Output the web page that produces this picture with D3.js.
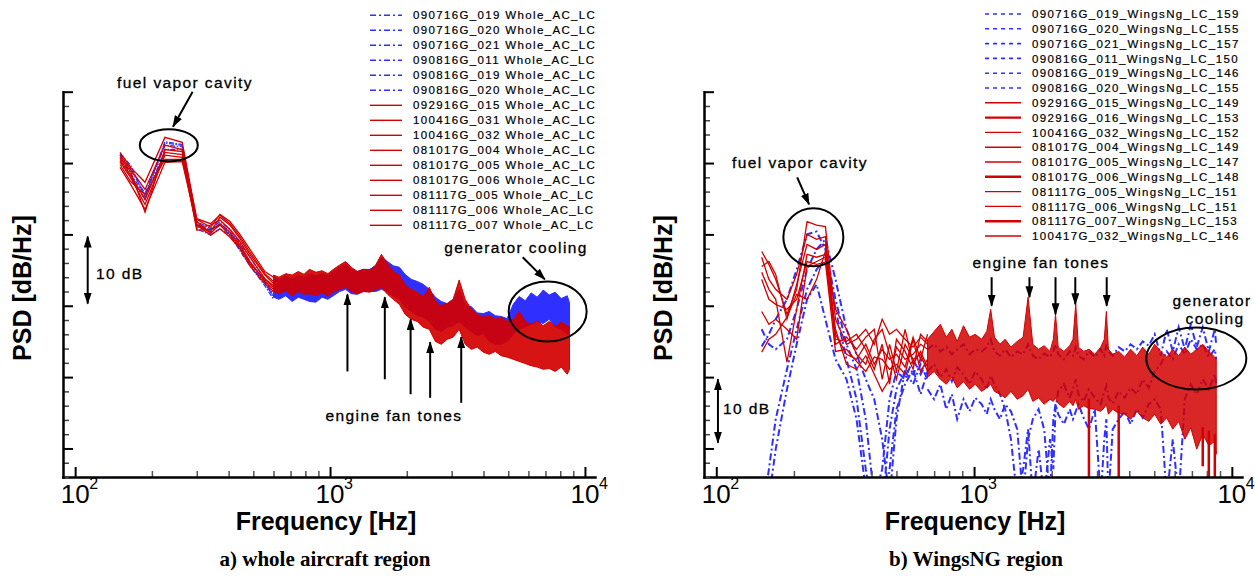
<!DOCTYPE html>
<html>
<head>
<meta charset="utf-8">
<script src="https://cdn.jsdelivr.net/npm/d3@7/dist/d3.min.js"></script>
<style>
  body { margin: 0; background: #fff; }
  svg { display: block; font-family: "Liberation Sans", Arial, sans-serif; }
  .caption { font-family: "Liberation Serif", "Times New Roman", serif; font-weight: bold; font-size: 21px; }
  .axtitle { font-weight: bold; font-size: 25px; }
  .note { font-size: 15.5px; letter-spacing: 1.4px; stroke: #000; stroke-width: 0.3px; }
  .leg { font-size: 11.5px; letter-spacing: 1.35px; stroke: #000; stroke-width: 0.2px; }
</style>
</head>
<body>
<div id="app"></div>
<script>
// ---- a) whole aircraft region : frequencies in Hz, levels in dB ----
var fLowA = [150,165,188,225,263,300,340,370,405,445,485,555,600];
var redLowA = [
  [41.5,39.4,37.3,43.6,42.9,32.1,31.0,32.8,31.8,29.9,27.9,24.8,24.0],
  [40.8,38.8,33.1,41.9,41.6,31.4,30.4,32.4,31.3,29.3,27.2,24.3,23.1],
  [40.2,38.0,34.2,41.1,40.8,31.0,31.3,32.0,30.7,28.9,26.8,23.8,22.8],
  [39.8,37.4,35.6,40.5,40.5,31.8,30.1,31.5,30.3,28.5,26.2,23.4,22.3],
  [40.5,38.3,34.9,41.5,41.2,30.6,30.7,31.3,29.9,28.2,25.9,23.7,22.6],
  [39.4,37.0,33.5,40.1,40.2,31.3,29.9,30.8,29.6,27.9,25.6,23.1,22.0],
  [41.1,39.1,36.3,42.5,41.9,32.2,31.5,32.7,31.5,29.6,27.5,24.5,23.4]
];
var blueLowA = [
  [41.3,39.7,35.2,43.0,42.6,31.8,30.8,31.8,30.7,28.7,26.8,23.7,21.6],
  [40.8,38.5,35.5,42.5,42.3,31.3,30.3,31.3,30.1,28.2,26.2,23.3,21.2],
  [40.2,38.0,34.9,41.9,41.9,30.8,29.9,30.8,29.9,27.6,25.6,22.8,20.9],
  [41.1,39.1,35.7,42.8,42.5,31.5,30.6,31.5,30.4,27.9,25.9,23.1,21.4]
];
var fHighA = [600,630,670,710,750,790,830,880,930,980,1030,1090,1150,1210,1280,1350,1430,1510,1590,1680,
  1770,1870,1970,2080,2200,2320,2450,2590,2730,2880,3040,3210,3390,3580,3780,3990,4210,4450,4690,4950,
  5230,5520,5830,6150,6500,6860,7240,7640,8070,8520,8700];
var redTopA = [24.3,24.0,24.5,24.3,24.8,24.4,25.1,24.7,24.9,24.5,25.1,25.7,26.2,25.4,24.8,25.1,25.0,25.7,27.2,25.9,
  24.8,24.3,23.0,22.3,21.9,21.2,22.6,20.6,20.0,20.3,20.9,23.6,20.9,19.5,18.8,18.4,18.6,18.1,18.4,17.8,
  18.1,19.2,17.8,17.4,17.9,17.2,17.8,17.1,17.7,17.2,17.0];
var redBotA = [22.0,21.7,22.1,21.4,22.0,21.6,21.7,21.4,21.9,21.3,22.0,22.3,22.6,22.0,21.7,22.0,21.9,22.3,22.6,21.6,
  20.9,20.2,18.8,18.1,17.8,17.0,16.7,15.0,14.6,15.3,15.6,16.7,14.6,13.9,14.2,13.5,13.2,13.6,13.0,12.8,
  12.5,12.2,11.9,11.6,11.4,11.1,11.2,10.8,11.4,10.4,11.1];
var blueTopA = [24.0,23.7,24.1,23.8,24.2,24.0,24.4,24.2,24.5,24.2,24.8,25.4,25.8,25.1,24.8,25.1,25.1,25.6,26.8,26.2,
  25.6,25.4,24.4,23.7,23.4,23.0,22.3,21.2,20.6,20.3,20.9,22.3,20.0,19.9,19.0,18.9,19.2,18.6,18.5,18.2,
  20.2,21.3,20.7,21.8,21.2,22.2,21.5,21.9,21.0,21.4,20.4];
var blueBotA = [21.2,20.9,21.4,20.6,21.2,20.9,20.6,20.5,21.2,20.9,21.4,22.0,22.3,21.7,21.6,22.0,22.0,22.0,22.3,22.0,
  21.4,20.9,19.8,19.2,18.6,18.4,17.8,16.7,16.4,17.0,17.2,17.8,17.0,16.4,15.8,16.1,15.0,14.6,14.6,15.0,
  16.0,16.7,17.0,17.4,17.8,17.5,18.1,17.0,16.7,16.0,16.3];

// ---- b) WingsNG region ----
var fLowB = [150,160,170,188,205,225,245,265,290,320,350,380,410,440,470,500,540,580,620,660];
var redLowB = [
  [27.6,25.8,23.7,18.8,22.3,31.8,31.3,31.1,18.1,14.6,15.3,16.7,14.6,18.1,16.0,16.7,15.3,14.2,15.6,14.6],
  [26.8,23.7,22.3,20.9,24.4,30.0,29.3,29.7,16.0,13.2,12.5,14.6,11.8,13.9,12.5,13.2,11.4,15.6,12.5,16.0],
  [25.5,26.2,24.4,18.1,23.0,28.6,27.9,28.6,14.6,15.6,13.9,15.6,16.7,9.7,14.6,10.8,16.7,11.8,13.6,11.4],
  [24.7,22.3,20.9,12.1,19.5,27.2,26.8,27.2,16.7,11.8,11.1,13.0,10.4,8.0,9.7,14.2,12.5,13.2,14.6,13.9],
  [23.7,20.9,20.2,19.5,20.9,26.2,25.8,26.1,13.6,13.9,12.2,10.8,12.8,12.5,11.1,11.8,10.4,15.3,10.8,12.5],
  [19.2,17.4,18.1,16.7,15.3,25.5,26.2,26.8,15.3,15.0,16.0,13.9,11.1,14.6,9.0,15.3,13.6,11.1,16.0,15.0],
  [13.5,15.3,16.0,18.4,21.6,20.9,23.7,27.6,19.5,16.7,13.2,11.8,15.3,16.7,13.2,9.7,14.6,12.5,13.2,10.8]
];
var blueLowB = [
  [14.3,16.0,18.1,20.9,25.1,30.0,30.4,27.9,20.9,14.6,11.1,4.1,-7.1,-2.9,6.9,10.8,9.7,12.5,10.4,12.2],
  [-10.0,-2.9,4.1,11.1,16.7,22.3,25.1,26.5,19.5,12.5,6.9,-2.9,-10.0,-8.5,2.7,8.3,10.8,9.0,11.8,9.7],
  [-12.8,-7.1,-0.1,8.3,14.6,20.9,23.0,18.1,12.5,9.7,4.1,-5.7,-4.3,-11.4,-2.9,5.5,9.0,11.1,7.6,10.8],
  [16.7,14.6,13.9,15.3,19.5,25.1,27.9,29.3,23.7,16.7,13.2,9.7,6.9,1.3,-7.1,4.1,11.1,10.4,12.5,11.4]
];
var fHighB = [660,700,740,780,820,860,910,960,1010,1070,1120,1160,1200,1260,1320,1390,1470,1550,1620,1690,
  1780,1870,1970,2030,2070,2120,2230,2350,2420,2480,2540,2660,2790,2940,3100,3200,3260,3320,3450,3640,
  3840,4050,4280,4510,4760,5020,5300,5590,5900,6220,6570,6930,7310,7710,8140,8590,8700];
var redTopB = [15.3,16.4,17.4,15.6,16.7,15.0,17.2,15.6,16.0,15.3,16.4,19.5,15.6,14.6,15.3,14.2,15.0,15.6,21.2,14.6,
  13.9,14.4,13.6,15.3,18.8,14.2,13.6,14.4,15.3,20.2,14.2,13.6,13.9,13.2,14.2,15.3,19.2,13.9,13.2,13.6,
  12.8,13.9,13.0,14.2,13.2,14.6,13.6,12.8,13.9,13.0,14.2,13.2,13.9,14.6,13.6,12.8,12.5];
var redBotB = [10.0,10.8,9.7,9.0,10.0,8.5,9.4,8.3,9.0,8.0,8.5,9.0,8.0,7.6,7.1,8.0,6.9,7.4,8.3,6.6,
  7.1,6.2,6.9,6.6,7.1,6.3,5.7,6.6,6.0,6.9,5.5,6.0,5.6,5.5,5.2,5.7,6.2,4.8,5.5,4.9,
  4.8,4.1,5.2,4.3,3.8,4.8,3.4,4.3,2.7,3.8,1.3,2.9,-0.1,2.0,0.4,1.0,-0.8];
// narrow red drop-outs reaching the axis
var redDropF = [2790,3640,7710,8140,8590];
var redDropHi = [7.0,6.0,3.0,2.5,2.0];
var redDropLo = [-6,-6,-2.5,-6,-6];
var blueHighB = [
  [13.9,14.6,13.6,14.2,13.2,13.9,14.6,13.2,13.9,13.6,14.2,15.3,13.6,13.0,13.9,12.8,13.6,13.2,14.6,13.0,
   12.5,13.3,12.8,13.6,14.6,13.2,12.5,13.6,13.0,14.2,13.0,12.5,13.6,12.8,13.9,13.0,14.6,13.6,13.0,14.2,
   13.6,14.6,13.9,15.0,14.4,16.0,13.0,16.7,13.6,17.0,13.9,17.4,14.2,17.0,13.6,16.7,14.4],
  [10.8,11.8,10.0,11.1,9.4,11.4,10.4,9.0,10.8,9.7,8.3,10.2,9.0,7.6,5.5,1.3,-7,-2.9,2.7,-7,
   -0.1,-7,1.3,-2.9,5.5,8.0,9.0,7.1,8.3,9.7,7.6,6.6,8.3,7.1,6.2,8.0,8.8,7.1,6.3,8.0,
   7.1,8.5,7.6,9.7,8.5,10.8,11.8,13.6,12.5,14.6,13.2,15.3,13.9,14.6,12.8,13.9,12.5],
  [8.3,6.9,9.0,5.5,7.6,4.1,6.9,5.2,7.1,6.2,4.8,6.9,5.5,4.1,6.2,5.2,2.7,-7,1.3,4.1,
   5.5,2.7,-7,4.1,6.2,4.8,3.4,5.5,4.1,5.2,6.2,4.3,2.7,5.5,-7,1.3,4.1,-7,2.7,4.1,
   5.2,3.4,5.5,4.3,6.2,6.9,5.5,-7,1.3,-7,6.9,9.0,7.6,9.7,8.3,10.4,9.0]
];

// legends and ticks
var legendA = ['090716G_019 Whole_AC_LC','090716G_020 Whole_AC_LC','090716G_021 Whole_AC_LC','090816G_011 Whole_AC_LC',
  '090816G_019 Whole_AC_LC','090816G_020 Whole_AC_LC','092916G_015 Whole_AC_LC','100416G_031 Whole_AC_LC',
  '100416G_032 Whole_AC_LC','081017G_004 Whole_AC_LC','081017G_005 Whole_AC_LC','081017G_006 Whole_AC_LC',
  '081117G_005 Whole_AC_LC','081117G_006 Whole_AC_LC','081117G_007 Whole_AC_LC'];
var legendB = ['090716G_019_WingsNg_LC_159','090716G_020_WingsNg_LC_155','090716G_021_WingsNg_LC_157',
  '090816G_011_WingsNg_LC_150','090816G_019_WingsNg_LC_146','090816G_020_WingsNg_LC_155',
  '092916G_015_WingsNg_LC_149','092916G_016_WingsNg_LC_153','100416G_032_WingsNg_LC_152',
  '081017G_004_WingsNg_LC_149','081017G_005_WingsNg_LC_147','081017G_006_WingsNg_LC_148',
  '081117G_005_WingsNg_LC_151','081117G_006_WingsNg_LC_151','081117G_007_WingsNg_LC_153',
  '100417G_032_WingsNg_LC_146'];
var xMajor = [100,1000,10000];
var xExp = ['2','3','4'];
var xMinor = [200,300,400,500,600,700,800,900,2000,3000,4000,5000,6000,7000,8000,9000];
var yMajor = [0,10,20,30,40,50];
var fanTones = [1170,1640,2070,2470,3270];
var fanTipA = [21.6,21.2,18.1,14.9,15.6];
var fanTailA = [10.8,9.7,7.6,7.1,6.4];
var fanTipB = [20.0,21.2,18.8,20.2,20.0];

var BLUE = '#2f2fff', RED = '#d20000';

var svg = d3.select('#app').append('svg').attr('width',1255).attr('height',576);
var defs = svg.append('defs');
defs.append('marker').attr('id','head')
    .attr('viewBox','0 0 12 8').attr('refX',11).attr('refY',4)
    .attr('markerWidth',12).attr('markerHeight',8)
    .attr('markerUnits','userSpaceOnUse').attr('orient','auto-start-reverse')
  .append('path').attr('d','M0,0L12,4L0,8z').attr('fill','#000');

var y = d3.scaleLinear().domain([-4,50]).range([477,91.7]);

function pts(f,v){ return f.map(function(d,i){ return [d,v[i]]; }); }
function band(f,lo,hi){ return f.map(function(d,i){ return [d,lo[i],hi[i]]; }); }

function drawPanel(p){
  var x = d3.scaleLog().domain([89.6,10950]).range(p.xr);
  var line = d3.line().x(function(d){return x(d[0]);}).y(function(d){return y(d[1]);});
  var area = d3.area().x(function(d){return x(d[0]);}).y0(function(d){return y(d[1]);}).y1(function(d){return y(d[2]);});
  var g = svg.append('g');

  defs.append('clipPath').attr('id','clip'+p.id).append('rect')
    .attr('x',p.xr[0]).attr('y',y(50)).attr('width',p.xr[1]-p.xr[0]).attr('height',y(-4)-y(50));
  var plot = g.append('g').attr('clip-path','url(#clip'+p.id+')');

  // blue (first group) underneath
  if (p.blueTop) {
    plot.append('path').attr('d',area(band(p.fHigh,p.blueBot,p.blueTop)))
      .attr('fill',BLUE).attr('stroke',BLUE).attr('stroke-width',1);
  }
  plot.selectAll('path.blo').data(p.blueLow).enter().append('path')
    .attr('class','blo')
    .attr('d',function(v){return line(pts(p.fLow,v));})
    .attr('fill','none').attr('stroke',BLUE).attr('stroke-width',p.blueWidth)
    .attr('stroke-dasharray',p.blueDash);
  if (p.blueHigh) {
    plot.selectAll('path.bhi').data(p.blueHigh).enter().append('path')
      .attr('class','bhi')
      .attr('d',function(v){return line(pts(p.fHigh,v));})
      .attr('fill','none').attr('stroke',BLUE).attr('stroke-width',p.blueWidth)
      .attr('stroke-dasharray',p.blueDash);
  }
  // red (second group) on top
  plot.append('path').attr('d',area(band(p.fHigh,p.redBot,p.redTop)))
    .attr('fill',RED).attr('fill-opacity',p.redOpacity).attr('stroke',RED).attr('stroke-width',1);
  if (p.dropF) {
    plot.selectAll('line.drop').data(p.dropF).enter().append('line')
      .attr('class','drop')
      .attr('x1',function(d){return x(d);}).attr('x2',function(d){return x(d);})
      .attr('y1',function(d,i){return y(p.dropHi[i]);}).attr('y2',function(d,i){return y(p.dropLo[i]);})
      .attr('stroke',RED).attr('stroke-width',2.5);
  }
  plot.selectAll('path.rlo').data(p.redLow).enter().append('path')
    .attr('class','rlo')
    .attr('d',function(v){return line(pts(p.fLow,v));})
    .attr('fill','none').attr('stroke',RED).attr('stroke-width',1.3);

  // axes, ticks pointing inward
  g.append('g').attr('transform','translate(0,'+y(-4)+')')
    .call(d3.axisBottom(x).tickValues(xMinor).tickSize(-6).tickFormat(''))
    .call(function(s){ s.select('.domain').remove(); s.selectAll('line').attr('stroke','#555').attr('stroke-width',1.5); });
  g.append('g').attr('transform','translate(0,'+y(-4)+')')
    .call(d3.axisBottom(x).tickValues(xMajor).tickSize(-10).tickSizeOuter(0).tickFormat(''))
    .call(function(s){ s.select('.domain').attr('stroke-width',2.5).attr('stroke-linecap','square'); s.selectAll('line').attr('stroke-width',2); });
  g.append('g').attr('transform','translate('+p.xr[0]+',0)')
    .call(d3.axisLeft(y).tickValues(d3.range(-4,51,2).filter(function(v){return v%10!==0;})).tickSize(-6).tickFormat(''))
    .call(function(s){ s.select('.domain').remove(); s.selectAll('line').attr('stroke','#444').attr('stroke-width',1.5); });
  g.append('g').attr('transform','translate('+p.xr[0]+',0)')
    .call(d3.axisLeft(y).tickValues(yMajor).tickSize(-10).tickSizeOuter(0).tickFormat(''))
    .call(function(s){ s.select('.domain').attr('stroke-width',2.5).attr('stroke-linecap','square'); s.selectAll('line').attr('stroke-width',2); });

  g.selectAll('text.ten').data(xMajor).enter().append('text')
    .attr('class','ten').attr('x',function(d){return x(d);}).attr('y',503)
    .attr('text-anchor','middle').attr('font-size',26).text('10');
  g.selectAll('text.exp').data(xMajor).enter().append('text')
    .attr('class','exp').attr('x',function(d){return x(d)+14;}).attr('y',489)
    .attr('font-size',16).text(function(d,i){return xExp[i];});

  g.append('text').attr('class','axtitle').attr('x',p.xTitle).attr('y',530)
    .attr('text-anchor','middle').text('Frequency [Hz]');
  g.append('text').attr('class','axtitle')
    .attr('transform','translate('+p.yTitle+',288) rotate(-90)')
    .attr('text-anchor','middle').text('PSD [dB/Hz]');
  g.append('text').attr('class','caption').attr('x',p.capX).attr('y',566)
    .attr('text-anchor','middle').text(p.caption);

  // legend
  var lg = g.append('g');
  lg.selectAll('line').data(p.legend).enter().append('line')
    .attr('x1',p.legX[0]).attr('x2',p.legX[1])
    .attr('y1',function(d,i){return p.legY+i*p.legDy;})
    .attr('y2',function(d,i){return p.legY+i*p.legDy;})
    .attr('stroke',function(d,i){return i<6?BLUE:RED;})
    .attr('stroke-width',function(d,i){return i<6?1.6:(p.thick.indexOf(i)>=0?2.4:1.4);})
    .attr('stroke-dasharray',function(d,i){return i<6?p.legDash:null;});
  lg.selectAll('text').data(p.legend).enter().append('text')
    .attr('class','leg').attr('x',p.legTextX)
    .attr('y',function(d,i){return p.legY+i*p.legDy;}).attr('dy','0.36em')
    .text(function(d){return d;});
  return {g:g, x:x};
}

function arrow(g,x,a,b,both){
  var l = g.append('line').attr('x1',x(a[0])).attr('y1',y(a[1])).attr('x2',x(b[0])).attr('y2',y(b[1]))
    .attr('stroke','#000').attr('stroke-width',2).attr('marker-end','url(#head)');
  if (both) l.attr('marker-start','url(#head)');
}
function ring(g,x,r){
  g.append('ellipse').attr('cx',x(r[0])).attr('cy',y(r[1])).attr('rx',r[2]).attr('ry',r[3])
    .attr('fill','none').attr('stroke','#000').attr('stroke-width',2);
}
function note(g,px,py,txt,anchor){
  g.append('text').attr('class','note').attr('x',px).attr('y',py)
    .attr('text-anchor',anchor||'middle').text(txt);
}

var A = drawPanel({id:'A', xr:[63,595], fLow:fLowA, redLow:redLowA, blueLow:blueLowA, fHigh:fHighA,
  redTop:redTopA, redBot:redBotA, blueTop:blueTopA, blueBot:blueBotA, blueHigh:null, redOpacity:0.92,
  blueDash:'5,1.5,1.5,1.5', blueWidth:1.3, legend:legendA, legX:[370,402], legTextX:413,
  legY:15.3, legDy:15, legDash:'6,3,2,3', thick:[], xTitle:326, yTitle:31, capX:325,
  caption:'a) whole aircraft region'});
var B = drawPanel({id:'B', xr:[704,1242], fLow:fLowB, redLow:redLowB, blueLow:blueLowB, fHigh:fHighB,
  redTop:redTopB, redBot:redBotB, blueTop:null, blueHigh:blueHighB, redOpacity:0.85,
  dropF:redDropF, dropHi:redDropHi, dropLo:redDropLo,
  blueDash:'7,3,2,3', blueWidth:2, legend:legendB, legX:[985,1021], legTextX:1032,
  legY:14, legDy:14.8, legDash:'4,4', thick:[7,11,14], xTitle:975, yTitle:672, capX:976,
  caption:'b) WingsNG region'});

// annotations, panel a
ring(A.g,A.x,[233,42.5,29,16]);
arrow(A.g,A.x,[289,50.0],[242,45.1]);
ring(A.g,A.x,[7140,19.2,39,30]);
arrow(A.g,A.x,[5698,26.8],[6960,23.7]);
arrow(A.g,A.x,[112,29.7],[112,20.3],true);
fanTones.forEach(function(f,i){ arrow(A.g,A.x,[f,fanTailA[i]],[f,fanTipA[i]]); });
note(A.g,185,88,'fuel vapor cavity');
note(A.g,96,279,'10 dB','start');
note(A.g,394,421,'engine fan tones');
note(A.g,516,253,'generator cooling');

// annotations, panel b
ring(B.g,B.x,[238,29.6,30,29]);
arrow(B.g,B.x,[206,38.0],[229,34.2]);
ring(B.g,B.x,[7280,12.6,50,31]);
arrow(B.g,B.x,[101.5,9.7],[101.5,0.8],true);
fanTones.forEach(function(f,i){ arrow(B.g,B.x,[f,24.0],[f,fanTipB[i]]); });
note(B.g,800,168,'fuel vapor cavity');
note(B.g,723,414,'10 dB','start');
note(B.g,1041,268,'engine fan tones');
note(B.g,1212,306,'generator');
note(B.g,1215,324,'cooling');
</script>
</body>
</html>
